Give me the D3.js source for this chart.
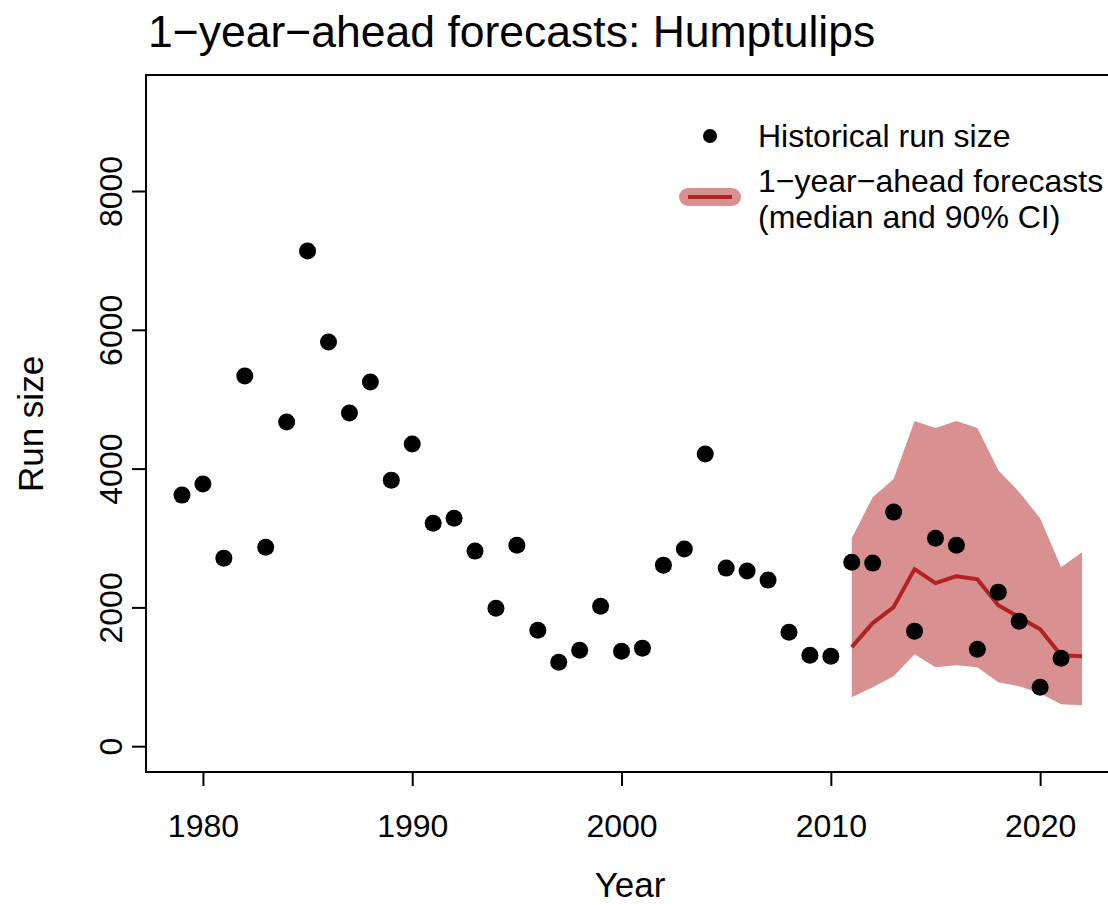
<!DOCTYPE html>
<html>
<head>
<meta charset="utf-8">
<script src="https://cdn.jsdelivr.net/npm/d3@7"></script>
<style>
  html, body { margin: 0; padding: 0; background: #fff; }
  svg { display: block; }
  text { font-family: "Liberation Sans", Arial, Helvetica, sans-serif; fill: #000; }
</style>
</head>
<body>
<svg id="chart" width="1108" height="905"></svg>
<script>
// ---- Data ----
const histYears = [1979,1980,1981,1982,1983,1984,1985,1986,1987,1988,1989,1990,1991,1992,1993,1994,1995,1996,1997,1998,1999,2000,2001,2002,2003,2004,2005,2006,2007,2008,2009,2010,2011,2012,2013,2014,2015,2016,2017,2018,2019,2020,2021];
const histRun = [3618,3777,2710,5333,2868,4670,7135,5823,4800,5247,3834,4353,3214,3286,2811,1989,2897,1672,1211,1384,2018,1369,1413,2609,2840,4209,2566,2523,2393,1643,1312,1297,2652,2638,3373,1658,2998,2897,1398,2220,1802,850,1268];

const fcYears = [2011,2012,2013,2014,2015,2016,2017,2018,2019,2020,2021,2022];
const fcMedian = [1427,1773,2004,2551,2350,2450,2407,2032,1859,1686,1312,1297];
const fcUpper = [2998,3589,3849,4685,4584,4685,4584,3978,3661,3286,2580,2796];
const fcLower = [706,850,1009,1326,1139,1168,1139,922,865,764,605,591];

const xTicks = [1980,1990,2000,2010,2020];
const yTicks = [0,2000,4000,6000,8000];

const titleText = "1\u2212year\u2212ahead forecasts: Humptulips";
const xLabel = "Year";
const yLabel = "Run size";
const legendLabels = ["Historical run size", "1\u2212year\u2212ahead forecasts", "(median and 90% CI)"];

// ---- Layout ----
const bandColor = "#d89090";
const lineColor = "#b22222";
const svg = d3.select("#chart");

const xMin = 1979, xMax = 2022;
const xPad = (xMax - xMin) * 0.04;
const x = d3.scaleLinear().domain([xMin - xPad, xMax + xPad]).range([146, 1118]);
const yMinV = 0, yMaxV = 9300;
const yPad = (yMaxV - yMinV) * 0.04;
const y = d3.scaleLinear().domain([yMinV - yPad, yMaxV + yPad]).range([772, 75]);

const plot = svg.append("g");

// CI band
const area = d3.area()
  .x((d, i) => x(fcYears[i]))
  .y0((d, i) => y(fcLower[i]))
  .y1((d, i) => y(fcUpper[i]));
plot.append("path").datum(fcYears).attr("d", area).attr("fill", bandColor);

// Median line
const line = d3.line().x((d, i) => x(fcYears[i])).y((d, i) => y(fcMedian[i]));
plot.append("path").datum(fcYears).attr("d", line)
  .attr("fill", "none").attr("stroke", lineColor).attr("stroke-width", 4)
  .attr("stroke-linejoin", "round");

// Points
plot.selectAll("circle.pt").data(histYears).enter().append("circle")
  .attr("class", "pt")
  .attr("cx", d => x(d))
  .attr("cy", (d, i) => y(histRun[i]))
  .attr("r", 8.5)
  .attr("fill", "#000");

// Box
svg.append("rect").attr("x", 146).attr("y", 75)
  .attr("width", 1118 - 146).attr("height", 772 - 75)
  .attr("fill", "none").attr("stroke", "#000").attr("stroke-width", 2);

// X axis
const xAxis = d3.axisBottom(x).tickValues(xTicks).tickSize(14).tickPadding(28).tickFormat(d3.format("d"));
const gx = svg.append("g").attr("transform", "translate(0,772)").call(xAxis);
gx.select(".domain").remove();
gx.selectAll(".tick line").attr("stroke", "#000").attr("stroke-width", 2);
gx.selectAll(".tick text").attr("font-size", 32).attr("font-family", "Liberation Sans, Arial, sans-serif").attr("fill", "#000");

// Y axis
const yAxis = d3.axisLeft(y).tickValues(yTicks).tickSize(14).tickPadding(10).tickFormat(d3.format("d"));
const gy = svg.append("g").attr("transform", "translate(146,0)").call(yAxis);
gy.select(".domain").remove();
gy.selectAll(".tick line").attr("stroke", "#000").attr("stroke-width", 2);
gy.selectAll(".tick text")
  .attr("font-size", 32).attr("font-family", "Liberation Sans, Arial, sans-serif").attr("fill", "#000")
  .attr("x", null).attr("dy", null)
  .attr("text-anchor", "middle")
  .attr("transform", "translate(-24,0) rotate(-90)");

// Title
svg.append("text").attr("x", 148).attr("y", 47).attr("font-size", 44.5).text(titleText);

// Axis labels
svg.append("text").attr("x", 630).attr("y", 897).attr("text-anchor", "middle").attr("font-size", 35).text(xLabel);
svg.append("text").attr("transform", "translate(43,424) rotate(-90)").attr("text-anchor", "middle").attr("font-size", 35).text(yLabel);

// Legend
const lg = svg.append("g");
lg.append("circle").attr("cx", 710).attr("cy", 136).attr("r", 7).attr("fill", "#000");
lg.append("line").attr("x1", 688).attr("x2", 732).attr("y1", 197).attr("y2", 197)
  .attr("stroke", bandColor).attr("stroke-width", 18).attr("stroke-linecap", "round");
lg.append("line").attr("x1", 688).attr("x2", 732).attr("y1", 197).attr("y2", 197)
  .attr("stroke", lineColor).attr("stroke-width", 4);
lg.selectAll("text.lg").data(legendLabels).enter().append("text")
  .attr("class", "lg")
  .attr("x", 758)
  .attr("y", (d, i) => [147, 192, 228][i])
  .attr("font-size", 32)
  .text(d => d);
</script>
</body>
</html>
